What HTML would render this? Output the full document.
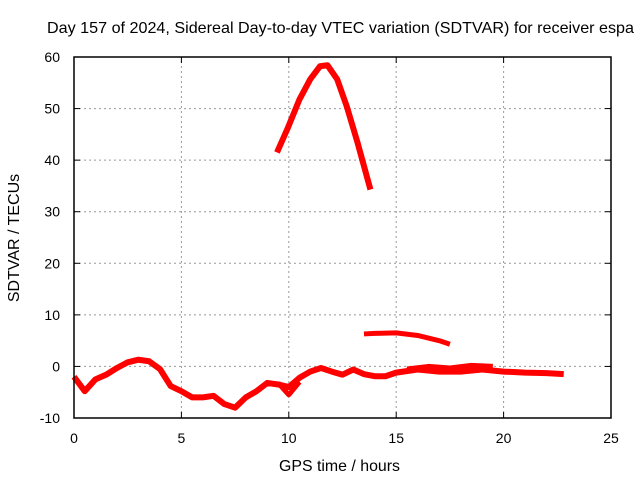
<!DOCTYPE html>
<html><head><meta charset="utf-8"><style>
body{margin:0;background:#fff;font-family:"Liberation Sans",sans-serif}
svg text{font-family:"Liberation Sans",sans-serif;font-size:14px;fill:#000}
</style></head><body>
<svg id="chart" width="640" height="480" xmlns="http://www.w3.org/2000/svg">
<rect width="640" height="480" fill="#fff"/>
<text x="47" y="33" style="font-size:16px" textLength="587" lengthAdjust="spacingAndGlyphs">Day 157 of 2024, Sidereal Day-to-day VTEC variation (SDTVAR) for receiver espa</text>
<g id="grid"></g><g id="series"></g><g id="axes"></g>
<text x="279" y="471" style="font-size:16px" textLength="121" lengthAdjust="spacingAndGlyphs">GPS time / hours</text>
<text transform="translate(19,238) rotate(-90)" text-anchor="middle" style="font-size:16px">SDTVAR / TECUs</text>
</svg>
<script>
const xTicks=[0,5,10,15,20,25];
const yTicks=[-10,0,10,20,30,40,50,60];
const lowHours=[0,0.5,1,1.5,2,2.5,3,3.5,4,4.5,5,5.5,6,6.5,7,7.5,8,8.5,9,9.5,10,10.5,11,11.5,12,12.5,13,13.5,14,14.5,15,16,17,18,19,20,21,22,22.8];
const lowValues=[-2,-4.8,-2.5,-1.6,-0.3,0.8,1.3,1,-0.5,-3.8,-4.8,-6,-6,-5.7,-7.3,-8,-6,-4.8,-3.2,-3.5,-4,-2.2,-1,-0.3,-1,-1.6,-0.6,-1.5,-1.9,-1.9,-1.2,-0.6,-1,-1,-0.6,-1,-1.2,-1.3,-1.5];
const altHours=[9.5,10,10.5,15.5,16.5,17.5,18.5,19.5];
const altValues=[-3.2,-5.5,-3,-0.5,0,-0.3,0.2,0];
const midHours=[13.5,14,15,16,16.5,17,17.5];
const midValues=[6.3,6.4,6.5,6,5.5,5,4.3];
const peakHours=[9.45,9.96,10.5,11,11.45,11.8,12.25,12.7,13.2,13.8];
const peakValues=[41.5,46.3,51.8,55.7,58.2,58.4,55.7,50.4,43.4,34.3];
const X0=74,X1=611,Y0=418,Y1=57;
const sx=v=>X0+(v-0)/25*(X1-X0);
const sy=v=>Y0-(v+10)/70*(Y0-Y1);
const NS="http://www.w3.org/2000/svg";
function mk(t,a,p){const e=document.createElementNS(NS,t);for(const k in a)e.setAttribute(k,a[k]);p.appendChild(e);return e;}
const grid=document.getElementById('grid'),axes=document.getElementById('axes'),ser=document.getElementById('series');
xTicks.forEach(t=>{
 if(t>0&&t<25){const g=mk('line',{x1:sx(t),x2:sx(t),y1:Y0,y2:Y1,stroke:'#999','stroke-dasharray':'2,3'},grid);
 
 }
 const l=mk('text',{x:sx(t),y:Y0+25,'text-anchor':'middle'},axes);l.textContent=t;
 
 
 mk('line',{x1:sx(t),x2:sx(t),y1:Y0,y2:Y0-6,stroke:'#000'},axes);
 mk('line',{x1:sx(t),x2:sx(t),y1:Y1,y2:Y1+6,stroke:'#000'},axes);
});
yTicks.forEach(t=>{
 if(t>-10&&t<60){const g=mk('line',{x1:X0,x2:X1,y1:sy(t),y2:sy(t),stroke:'#999','stroke-dasharray':'2,3'},grid);
 
 }
 const l=mk('text',{x:X0-14,y:sy(t)+5,'text-anchor':'end'},axes);l.textContent=t;
 
 
 mk('line',{x1:X0,x2:X0+6,y1:sy(t),y2:sy(t),stroke:'#000'},axes);
 mk('line',{x1:X1,x2:X1-6,y1:sy(t),y2:sy(t),stroke:'#000'},axes);
});
const fr=mk('rect',{x:X0,y:Y1,width:X1-X0,height:Y0-Y1,fill:'none',stroke:'#000','stroke-width':1.5},axes);


function draw(h,v,w,name){
 const p=mk('polyline',{points:h.map((x,i)=>sx(x)+','+sy(v[i])).join(' '),fill:'none',stroke:'#f00','stroke-width':w,'stroke-linejoin':'round','stroke-linecap':'butt'},ser);
 
 
}
draw(lowHours,lowValues,6,'sdtvar-main-trace');
draw(altHours.slice(0,3),altValues.slice(0,3),5,'sdtvar-branch-a');
draw(altHours.slice(3),altValues.slice(3),5,'sdtvar-branch-b');
draw(midHours,midValues,5,'sdtvar-mid-trace');
draw(peakHours,peakValues,6,'sdtvar-peak-trace');
</script>
</body></html>
